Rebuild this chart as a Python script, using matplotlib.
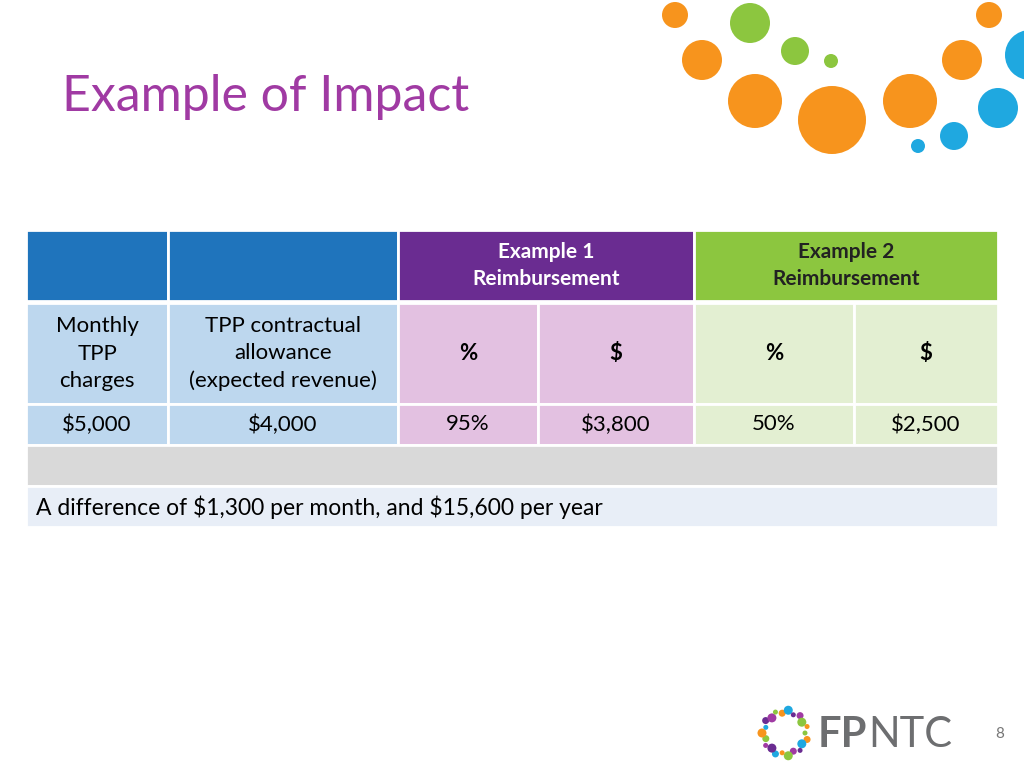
import matplotlib
matplotlib.use("Agg")
import matplotlib.pyplot as plt
from matplotlib.patches import Rectangle, Circle
import numpy as np

title = "Example of Impact"
group_headers = ["Example 1\nReimbursement", "Example 2\nReimbursement"]
row_labels = ["Monthly\nTPP\ncharges", "TPP contractual\nallowance\n(expected revenue)", "%", "$", "%", "$"]
row_values = ["$5,000", "$4,000", "95%", "$3,800", "50%", "$2,500"]
note = "A difference of $1,300 per month, and $15,600 per year"
page = "8"

plt.rcParams["font.family"] = "Lato"
plt.rcParams["text.parse_math"] = False
fig = plt.figure(figsize=(10.24, 7.68), dpi=100)
ax = fig.add_axes([0, 0, 1, 1])
ax.set_xlim(0, 1024); ax.set_ylim(768, 0); ax.axis("off")

xs = [26, 168, 398, 538, 694, 854, 998]
BLUE, PURPLE, GREEN = "#1F74BC", "#6A2C91", "#8CC63F"
LBLUE, PINK, LGREEN = "#BDD7EE", "#E3C1E1", "#E3EFD2"

def cell(x0, x1, y0, y1, fc, text="", color="black", bold=False, size=16):
    ax.add_patch(Rectangle((x0, y0), x1 - x0, y1 - y0, fc=fc, ec="white", lw=2))
    if text:
        ax.text((x0 + x1) / 2, (y0 + y1) / 2, text, ha="center", va="center",
                color=color, fontsize=size, fontweight="bold" if bold else "normal",
                linespacing=1.45)

cell(xs[0], xs[1], 230, 301, BLUE)
cell(xs[1], xs[2], 230, 301, BLUE)
cell(xs[2], xs[4], 230, 301, PURPLE, group_headers[0], "white", True, 15)
cell(xs[4], xs[6], 230, 301, GREEN, group_headers[1], "#222222", True, 15)
fills = [LBLUE, LBLUE, PINK, PINK, LGREEN, LGREEN]
for i in range(6):
    cell(xs[i], xs[i+1], 303, 404, fills[i], row_labels[i], bold=row_labels[i] in "%$")
    cell(xs[i], xs[i+1], 404, 445, fills[i], row_values[i])
ax.add_patch(Rectangle((xs[0], 445), xs[-1] - xs[0], 41, fc="#D9D9D9", ec="white", lw=2))
ax.add_patch(Rectangle((xs[0], 486), xs[-1] - xs[0], 41, fc="#E8EEF7", ec="white", lw=2))
ax.text(36, 507, note, ha="left", va="center", fontsize=16.5)

ax.text(62, 97, title, ha="left", va="center", fontsize=36, color="#A03AA3")

O, G, B = "#F7941D", "#8CC63F", "#1FA8E0"
bubbles = [(675, 15, 13, O), (750, 23, 20, G), (702, 60, 20, O), (795, 51, 14, G),
           (831, 61, 7, G), (755, 101, 27, O), (832, 120, 34, O), (910, 101, 27, O),
           (962, 60, 20, O), (989, 15, 13, O), (1030, 55, 25, B), (998, 108, 20, B),
           (954, 136, 14, B), (918, 146, 7, B)]
for x, y, r, c in bubbles:
    ax.add_patch(Circle((x, y), r, fc=c, ec="none"))

cols = ["#8CC63F", "#F7941D", "#1FA8E0", "#6A2C91", "#A03AA3"]
for k, ang in enumerate(np.linspace(0, 2*np.pi, 22, endpoint=False)):
    rr = 20 + (k % 2) * 3
    ax.add_patch(Circle((785 + rr*np.cos(ang), 733 + rr*np.sin(ang)), 2.5 + (k % 3),
                        fc=cols[k % 5], ec="none"))
ax.text(818, 735, "FP", ha="left", va="center", fontsize=30, color="#6D6E70", fontweight="bold")
ax.text(868, 735, "NTC", ha="left", va="center", fontsize=30, color="#6D6E70")
ax.text(1000, 734, page, ha="center", va="center", fontsize=11, color="#777777")

fig.savefig("out.png", dpi=100)
